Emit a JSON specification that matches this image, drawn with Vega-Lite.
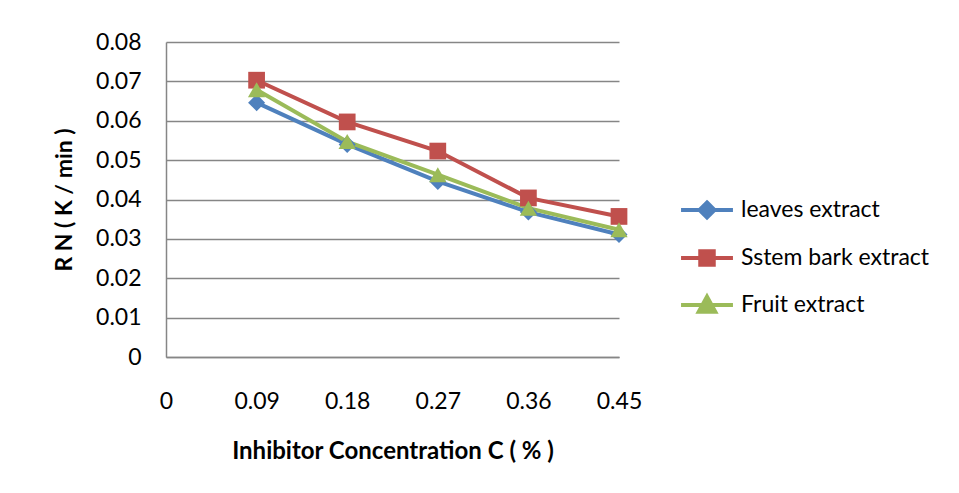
{
  "$schema": "https://vega.github.io/schema/vega-lite/v6.json",
  "autosize": {"type": "none"},
  "padding": {"left": 166, "top": 42, "right": 340, "bottom": 136},
  "width": 453,
  "height": 315,
  "background": "white",
  "config": {
    "font": "Lato",
    "view": {"stroke": null},
    "axis": {"domainColor": "#868686", "gridColor": "#868686", "gridWidth": 1.3, "domainWidth": 1.5, "ticks": false, "labelColor": "#000000", "titleColor": "#000000", "labelFont": "Lato", "titleFont": "Lato"}
  },
  "data": {"values": [
    {"c": 0.09, "rn": 0.0646, "s": "leaves extract"},
    {"c": 0.18, "rn": 0.0540, "s": "leaves extract"},
    {"c": 0.27, "rn": 0.0446, "s": "leaves extract"},
    {"c": 0.36, "rn": 0.0368, "s": "leaves extract"},
    {"c": 0.45, "rn": 0.0311, "s": "leaves extract"},
    {"c": 0.09, "rn": 0.0703, "s": "Sstem bark extract"},
    {"c": 0.18, "rn": 0.0597, "s": "Sstem bark extract"},
    {"c": 0.27, "rn": 0.0523, "s": "Sstem bark extract"},
    {"c": 0.36, "rn": 0.0404, "s": "Sstem bark extract"},
    {"c": 0.45, "rn": 0.0357, "s": "Sstem bark extract"},
    {"c": 0.09, "rn": 0.0679, "s": "Fruit extract"},
    {"c": 0.18, "rn": 0.0547, "s": "Fruit extract"},
    {"c": 0.27, "rn": 0.0463, "s": "Fruit extract"},
    {"c": 0.36, "rn": 0.0378, "s": "Fruit extract"},
    {"c": 0.45, "rn": 0.0323, "s": "Fruit extract"}
  ]},
  "encoding": {
    "x": {"field": "c", "type": "quantitative",
      "scale": {"domain": [0, 0.45], "nice": false, "zero": false},
      "axis": {"values": [0, 0.09, 0.18, 0.27, 0.36, 0.45], "grid": false, "labelFlush": false, "labelOverlap": false, "labelExpr": "datum.value == 0 ? '0' : format(datum.value, '.2f')", "labelFontSize": 23, "labelPadding": 33, "title": "Inhibitor Concentration C ( % )", "titleFontSize": 24, "titleFontWeight": "bold", "titlePadding": 26}},
    "y": {"field": "rn", "type": "quantitative",
      "scale": {"domain": [0, 0.08], "nice": false},
      "axis": {"values": [0, 0.01, 0.02, 0.03, 0.04, 0.05, 0.06, 0.07, 0.08], "labelFlush": false, "labelOverlap": false, "labelExpr": "datum.value == 0 ? '0' : format(datum.value, '.2f')", "labelFontSize": 23, "labelPadding": 25, "title": "R N  ( K / min )", "titleFontSize": 23, "titleFontWeight": "bold", "titlePadding": 19}},
    "color": {"field": "s", "type": "nominal",
      "scale": {"domain": ["leaves extract", "Sstem bark extract", "Fruit extract"], "range": ["#4F81BD", "#C0504D", "#9BBB59"]},
      "legend": {"title": null, "orient": "none", "legendX": 524, "legendY": 151, "padding": 0,
        "labelFontSize": 23, "labelColor": "#000000", "labelOffset": 17, "labelLimit": 400, "rowPadding": 15,
        "symbolSize": 900, "symbolStrokeWidth": 4,
        "encode": {"symbols": {"update": {
          "shape": {"signal": "datum.value == 'leaves extract' ? 'M-1.73,0H1.73M0,-0.5L0.5,0L0,0.5L-0.5,0Z' : datum.value == 'Sstem bark extract' ? 'M-1.73,0H1.73M-0.45,-0.45H0.45V0.45H-0.45Z' : 'M-1.73,0H1.73M0,-0.55L0.55,0.45H-0.55Z'"},
          "fill": {"scale": "color", "field": "value"},
          "stroke": {"scale": "color", "field": "value"},
          "strokeWidth": {"value": 4},
          "opacity": {"value": 1}
        }}}}}
  },
  "layer": [
    {"mark": {"type": "line", "strokeWidth": 4}},
    {"transform": [{"filter": "datum.s == 'leaves extract'"}],
      "mark": {"type": "point", "filled": true, "opacity": 1, "shape": "diamond", "size": 290}},
    {"transform": [{"filter": "datum.s == 'Sstem bark extract'"}],
      "mark": {"type": "point", "filled": true, "opacity": 1, "shape": "square", "size": 280}},
    {"transform": [{"filter": "datum.s == 'Fruit extract'"}],
      "mark": {"type": "point", "filled": true, "opacity": 1, "shape": "triangle-up", "size": 300}}
  ]
}
